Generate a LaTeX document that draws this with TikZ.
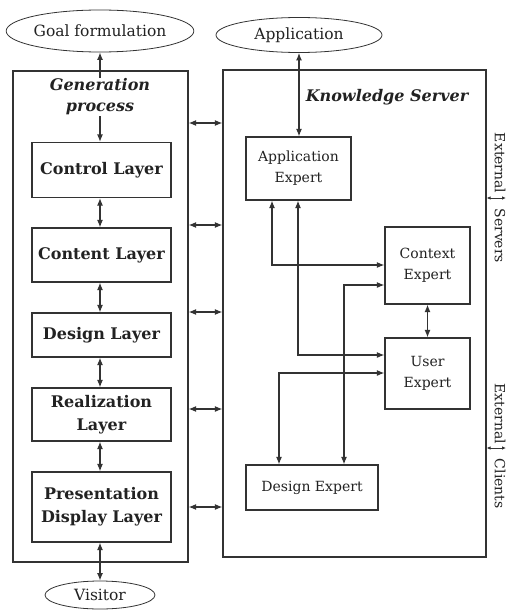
\documentclass[tikz,border=0pt]{standalone}
\usepackage{fontspec}
\setmainfont{DejaVu Serif}
\usetikzlibrary{arrows.meta,shapes.geometric,calc}
\definecolor{ln}{HTML}{333333}
\definecolor{tx}{HTML}{222222}
\tikzset{
  box/.style={draw=ln,line width=1.2pt,rectangle,inner sep=0pt,text=tx,align=center},
  layer/.style={box,minimum width=139pt,font=\fontsize{16}{23}\selectfont\bfseries},
  expert/.style={box,font=\fontsize{14}{21}\selectfont},
  oval/.style={draw=ln,line width=0.8pt,ellipse,inner sep=0pt,text=tx,font=\fontsize{15.5}{18}\selectfont},
  dbl/.style={draw=ln,line width=1.2pt,{Latex[length=7.5pt,width=6pt]}-{Latex[length=7.5pt,width=6pt]}},
  title/.style={text=tx,font=\fontsize{16}{21}\selectfont\bfseries\itshape,align=center},
  ext/.style={text=tx,font=\fontsize{14}{17}\selectfont,rotate=-90,inner sep=0pt}
}
\begin{document}
\begin{tikzpicture}[x=1pt,y=-1pt]
\useasboundingbox[fill=white] (0,0) rectangle (512,610);
% outer boxes
\node[box,minimum width=175pt,minimum height=491pt] (genbox) at (100.5,316.5) {};
\node[box,minimum width=263pt,minimum height=487pt] (ksbox) at (354.5,313.5) {};
% ellipses
\node[oval,minimum width=169pt,minimum height=42pt] (goal) at (100,31) {Goal formulation};
\node[oval,minimum width=166pt,minimum height=35pt] (app) at (299,35) {Application};
\node[oval,minimum width=110pt,minimum height=28pt] (visitor) at (100,595) {Visitor};
% layers
\node[layer,minimum height=55pt] (ctrl) at (101.5,170) {Control Layer};
\node[layer,minimum height=54pt] (content) at (101.5,255) {Content Layer};
\node[layer,minimum height=44pt] (design) at (101.5,335) {Design Layer};
\node[layer,minimum height=53pt] (real) at (101.5,414.5) {Realization\\Layer};
\node[layer,minimum height=70pt] (pres) at (101.5,507) {Presentation\\Display Layer};
% experts
\node[expert,minimum width=105pt,minimum height=63pt] (appexp) at (298.5,168.5) {Application\\Expert};
\node[expert,minimum width=85pt,minimum height=77pt] (ctxexp) at (427.5,265.5) {Context\\Expert};
\node[expert,minimum width=85pt,minimum height=71pt] (userexp) at (427.5,373.5) {User\\Expert};
\node[expert,minimum width=132pt,minimum height=45pt] (desexp) at (312,487.5) {Design Expert};
% vertical chain
\draw[dbl] (goal.south) -- (goal.south |- ctrl.north);
\node[title,fill=white,inner sep=1pt] (gentitle) at (100,97) {Generation\\process};
\draw[dbl] (ctrl.south -| 100,0) -- (content.north -| 100,0);
\draw[dbl] (content.south -| 100,0) -- (design.north -| 100,0);
\draw[dbl] (design.south -| 100,0) -- (real.north -| 100,0);
\draw[dbl] (real.south -| 100,0) -- (pres.north -| 100,0);
\draw[dbl] (pres.south -| 100,0) -- (visitor.north);
% horizontal links between boxes
\foreach \yy in {123,225,312,409,507}
  \draw[dbl] (genbox.east |- 0,\yy) -- (ksbox.west |- 0,\yy);
% knowledge server
\node[title] (kstitle) at (387,97) {Knowledge Server};
\draw[dbl] (app.south) -- (app.south |- appexp.north);
\draw[dbl] (appexp.south -| 272,0) |- (ctxexp.west |- 0,265);
\draw[dbl] (appexp.south -| 298,0) |- (userexp.west |- 0,355);
\draw[dbl] (desexp.north -| 344,0) |- (ctxexp.west |- 0,285);
\draw[dbl] (desexp.north -| 279,0) |- (userexp.west |- 0,373);
\draw[dbl] (ctxexp.south) -- (userexp.north);
% external
\node[ext] (extsrv) at (500,198) {External\hspace{15pt}Servers};
\coordinate (srvend) at (506,198);
\draw[dbl,line width=0.8pt,{Latex[length=4pt,width=3.5pt]}-{Latex[length=4pt,width=3.5pt]}] (ksbox.east |- srvend) -- (srvend);
\node[ext] (extcli) at (500,446) {External\hspace{15pt}Clients};
\coordinate (cliend) at (506,448);
\draw[dbl,line width=0.8pt,{Latex[length=4pt,width=3.5pt]}-{Latex[length=4pt,width=3.5pt]}] (ksbox.east |- cliend) -- (cliend);
\end{tikzpicture}
\end{document}
